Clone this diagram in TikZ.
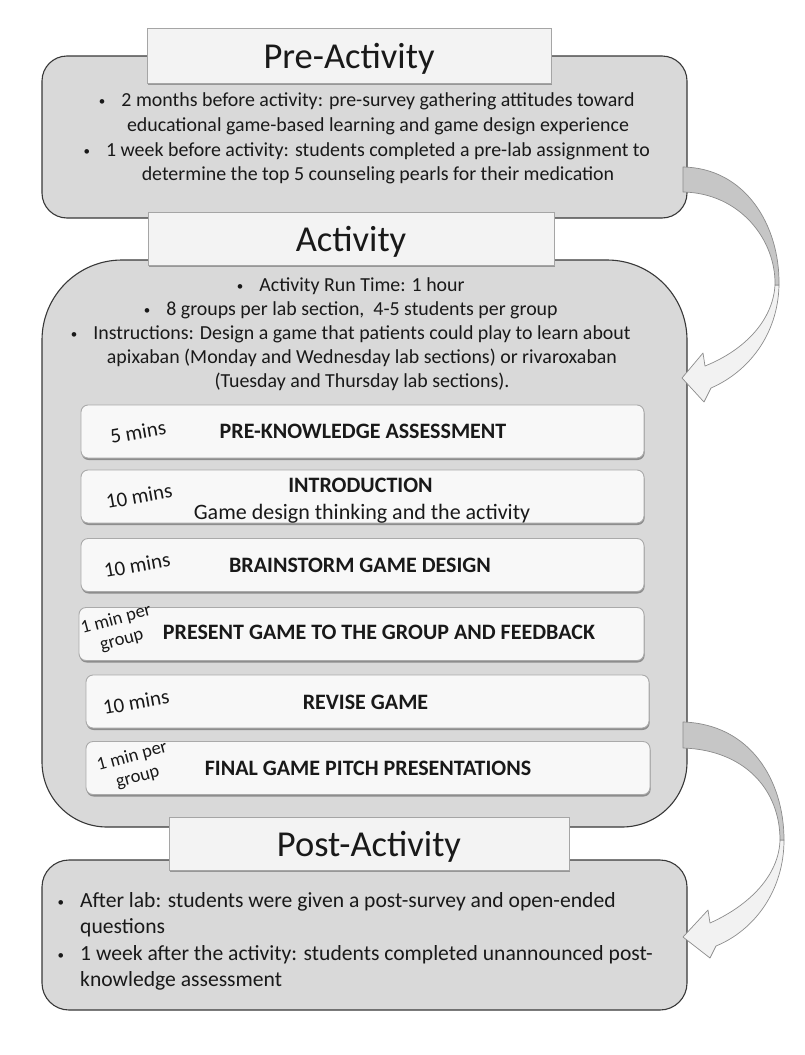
\documentclass[tikz,border=0pt]{standalone}
\usepackage{fontspec}
\setmainfont{Carlito}
\usetikzlibrary{shadows}
\definecolor{boxgray}{RGB}{217,217,217}
\definecolor{titlefill}{RGB}{243,243,243}
\definecolor{titleline}{RGB}{165,165,165}
\definecolor{stepfill}{RGB}{248,248,248}
\definecolor{stepline}{RGB}{170,170,170}
\definecolor{arrowdark}{RGB}{198,198,198}
\definecolor{arrowlight}{RGB}{242,242,242}
\definecolor{arrowline}{RGB}{140,140,140}
\definecolor{txtcol}{RGB}{25,25,25}
\newcommand{\bl}{\makebox[0pt][r]{\fontsize{13}{15}\selectfont\raisebox{1pt}{•}\hspace{16pt}}}
\begin{document}
\begin{tikzpicture}[x=1pt,y=1pt,
  outerbox/.style={draw=black!78, fill=boxgray, line width=1.1pt},
  titlebox/.style={rectangle, draw=titleline, fill=titlefill, line width=0.9pt, inner sep=0pt,
    drop shadow={shadow xshift=0.8pt, shadow yshift=-1.8pt, opacity=0.3, fill=black}},
  stepbox/.style={rectangle, rounded corners=7pt, draw=stepline, fill=stepfill, line width=0.9pt,
    inner sep=0pt, minimum height=53pt,
    drop shadow={shadow xshift=0.6pt, shadow yshift=-2pt, opacity=0.35, fill=black}},
  titletext/.style={inner sep=0pt, anchor=base, text=txtcol, font=\fontsize{36.5}{44}\selectfont},
  bodytext/.style={inner sep=0pt, anchor=base, text=txtcol, font=\fontsize{19.9}{24}\selectfont},
  posttext/.style={inner sep=0pt, anchor=base west, text=txtcol, font=\fontsize{21.6}{26}\selectfont},
  steptext/.style={inner sep=0pt, anchor=base, text=txtcol, font=\bfseries\fontsize{22}{26}\selectfont},
  subtext/.style={inner sep=0pt, anchor=base, text=txtcol, font=\fontsize{22}{26}\selectfont},
  timetext/.style={inner sep=0pt, text=txtcol, font=\fontsize{21}{25}\selectfont, rotate=10},
  smalltime/.style={inner sep=0pt, text=txtcol, align=center, font=\fontsize{18.5}{21.5}\selectfont, rotate=15},
  arrowdarkst/.style={fill=arrowdark, draw=arrowline, line width=0.7pt, line join=round},
  arrowlightst/.style={fill=arrowlight, draw=arrowline, line width=0.7pt, line join=round}
]
\useasboundingbox (0,0) rectangle (804,-1055);
\fill[white] (0,0) rectangle (804,-1055);

% ---------- outer boxes ----------
\node[outerbox, rounded corners=25pt, minimum width=645pt, minimum height=162pt, inner sep=0pt]
  (prebox) at (364.5,-137) {};
\draw[outerbox] (122,-260) -- (607,-260) arc[start angle=90,end angle=0,radius=80pt]
  -- (687,-762) arc[start angle=0,end angle=-90,radius=65pt]
  -- (107,-827) arc[start angle=270,end angle=180,radius=65pt]
  -- (42,-340) arc[start angle=180,end angle=90,radius=80pt] -- cycle;
\node[outerbox, rounded corners=27pt, minimum width=645pt, minimum height=150pt, inner sep=0pt]
  (postbox) at (364.5,-935) {};

% ---------- title boxes ----------
\node[titlebox, minimum width=404pt, minimum height=55pt] (pretitle) at (349,-55.5) {};
\node[titletext] (pretitlet) at (349,-68.5) {Pre-Activity};
\node[titlebox, minimum width=406pt, minimum height=53pt] (acttitle) at (351,-238.5) {};
\node[titletext] (acttitlet) at (351,-251.5) {Activity};
\node[titlebox, minimum width=400pt, minimum height=53pt] (posttitle) at (369,-843.5) {};
\node[titletext] (posttitlet) at (369,-856.5) {Post-Activity};

% ---------- pre-activity text ----------
\node[bodytext] (p1) at (378,-106.7) {\bl 2 months before activity: pre-survey gathering attitudes toward};
\node[bodytext] (p2) at (378,-131) {educational game-based learning and game design experience};
\node[bodytext] (p3) at (378,-156) {\bl 1 week before activity: students completed a pre-lab assignment to};
\node[bodytext] (p4) at (378,-180.5) {determine the top 5 counseling pearls for their medication};

% ---------- activity text ----------
\node[bodytext] (a1) at (362,-291) {\bl Activity Run Time: 1 hour};
\node[bodytext] (a2) at (362,-315.2) {\bl 8 groups per lab section,\ \ 4-5 students per group};
\node[bodytext] (a3) at (362,-339.4) {\bl Instructions: Design a game that patients could play to learn about};
\node[bodytext] (a4) at (362,-363.6) {apixaban (Monday and Wednesday lab sections) or rivaroxaban};
\node[bodytext] (a5) at (362,-387.8) {(Tuesday and Thursday lab sections).};

% ---------- step boxes ----------
\node[stepbox, minimum width=563pt] (s1) at (362.5,-431.5) {};
\node[timetext] (t1) at (138,-432) {5 mins};
\node[steptext] (s1t) at (363,-438.5) {PRE-KNOWLEDGE ASSESSMENT};

\node[stepbox, minimum width=563pt] (s2) at (362.5,-496.5) {};
\node[timetext] (t2) at (139,-496) {10 mins};
\node[steptext] (s2t) at (360.5,-492.5) {INTRODUCTION};
\node[subtext] (s2s) at (362,-519) {Game design thinking and the activity};

\node[stepbox, minimum width=563pt] (s3) at (362.5,-565) {};
\node[timetext] (t3) at (137,-565) {10 mins};
\node[steptext] (s3t) at (360,-572) {BRAINSTORM GAME DESIGN};

\node[stepbox, minimum width=565pt] (s4) at (361.5,-634) {};
\node[smalltime] (t4) at (119,-630) {1 min per\\group};
\node[steptext] (s4t) at (379,-639.5) {PRESENT GAME TO THE GROUP AND FEEDBACK};

\node[stepbox, minimum width=563pt] (s5) at (367.5,-701.5) {};
\node[timetext] (t5) at (136,-702) {10 mins};
\node[steptext] (s5t) at (365.5,-709) {REVISE GAME};

\node[stepbox, minimum width=564pt] (s6) at (368,-768) {};
\node[smalltime] (t6) at (135,-767) {1 min per\\group};
\node[steptext] (s6t) at (368,-775) {FINAL GAME PITCH PRESENTATIONS};

% ---------- post-activity text ----------
\node[posttext] (q1) at (80,-907) {\bl After lab: students were given a post-survey and open-ended};
\node[posttext] (q2) at (80,-933) {questions};
\node[posttext] (q3) at (80,-960) {\bl 1 week after the activity: students completed unannounced post-};
\node[posttext] (q4) at (80,-986) {knowledge assessment};

% ---------- curved block arrows ----------
\path[arrowlightst] (779,-285) .. controls (778,-335) and (748,-372) .. (711,-388)
  -- (704,-402) -- (682,-378) -- (703,-353) -- (705,-366)
  .. controls (745,-350) and (773,-320) .. (775,-285) -- cycle;
\path[arrowdarkst] (683,-167) .. controls (745,-168) and (780,-225) .. (779,-285)
  -- (775,-285) .. controls (776,-240) and (740,-193) .. (683,-192) -- cycle;

\path[arrowlightst] (784,-840) .. controls (784,-890) and (755,-930) .. (716,-946)
  -- (710,-958) -- (683,-937) -- (708,-910) -- (710,-923)
  .. controls (750,-905) and (779,-875) .. (780,-840) -- cycle;
\path[arrowdarkst] (683,-722) .. controls (750,-724) and (784,-780) .. (784,-840)
  -- (780,-840) .. controls (780,-790) and (745,-750) .. (683,-748) -- cycle;
\end{tikzpicture}
\end{document}
